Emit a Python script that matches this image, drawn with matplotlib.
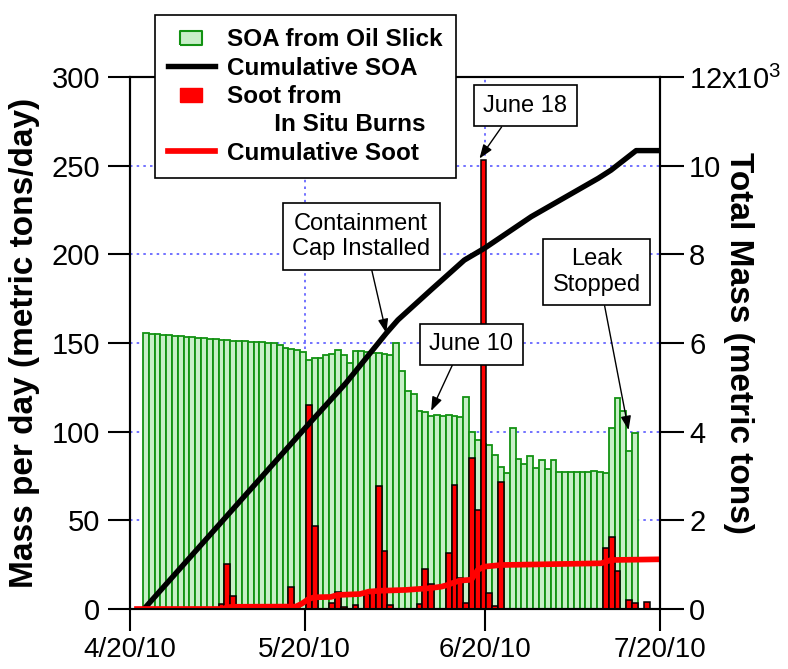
# Daily SOA / soot mass from the oil spill, with cumulative totals
import pandas as pd
import matplotlib
matplotlib.use("Agg")
import matplotlib.pyplot as plt
import matplotlib.dates as mdates
from matplotlib.lines import Line2D
from matplotlib.path import Path

plt.rcParams['font.family'] = ['Liberation Sans', 'DejaVu Sans']
plt.rcParams['mathtext.fontset'] = 'custom'
plt.rcParams['mathtext.rm'] = 'Liberation Sans'

start = pd.Timestamp("2010-04-20")

# SOA from the oil slick, metric tons/day, one value per day starting 4/20/10
soa_daily = [0, 0,
             155.5, 155.2, 155.0, 154.7, 154.4, 154.1, 153.8, 153.6, 153.3, 153.0,
             152.7, 152.5, 152.2, 151.9, 151.6, 151.4, 151.1, 150.9, 150.7, 150.5,
             150.3, 150.1, 149.8, 148.6, 147.2, 146.5, 146.0, 145.0, 140.5, 141.7,
             141.7, 143.2, 144.0, 146.0, 143.0, 139.0, 145.5, 145.5, 145.0, 144.5,
             144.5, 144.0, 143.5, 149.8, 134.4, 123.1, 121.2, 111.8, 111.1, 109.0,
             109.4, 109.0, 109.5, 109.0, 108.5, 119.7, 99.9, 95.2, 93.0, 92.5,
             86.8, 80.3, 76.5, 102.0, 84.4, 81.8, 86.3, 79.3, 84.0, 79.0,
             84.0, 77.5, 77.0, 77.3, 77.2, 77.5, 77.3, 77.6, 77.4, 76.6,
             102.0, 118.8, 111.8, 89.1, 99.1]

# soot from in situ burns, metric tons/day
soot_dates = ["2010-05-05", "2010-05-06", "2010-05-07", "2010-05-17", "2010-05-20",
              "2010-05-21", "2010-05-24", "2010-05-25", "2010-05-26", "2010-05-27",
              "2010-05-28", "2010-05-30", "2010-05-31", "2010-06-01", "2010-06-02",
              "2010-06-03", "2010-06-08", "2010-06-09", "2010-06-10", "2010-06-11",
              "2010-06-12", "2010-06-13", "2010-06-14", "2010-06-15", "2010-06-16",
              "2010-06-17", "2010-06-18", "2010-06-19", "2010-06-20", "2010-06-21",
              "2010-06-22", "2010-07-10", "2010-07-11", "2010-07-12", "2010-07-14",
              "2010-07-15", "2010-07-16", "2010-07-17", "2010-07-18", "2010-07-19"]
soot_daily = [2.8, 25.4, 7.3, 12.2, 115.0,
              46.8, 3.2, 9.4, 1.3, 0,
              2.4, 8.5, 9.8, 69.5, 32.7,
              2.3, 2.6, 22.4, 14.1, 0,
              0, 31.4, 69.9, 17.7, 3.2,
              85.0, 55.8, 253.0, 8.8, 1.7,
              71.4, 34.2, 40.8, 21.6, 5.1,
              3.2, 0, 4.1, 0, 0]

# cumulative totals in metric tons (days after 4/20/10)
cum_soa_days = [2.4, 30.2, 37.1, 44.0, 46.0, 51.7, 57.4, 60.9, 68.9, 80.4, 82.6, 86.9, 91.75]
cum_soa = [0, 4100, 5100, 6220, 6520, 7200, 7870, 8140, 8850, 9715, 9900, 10340, 10340]

cum_soot_days = [1.2, 15.8, 16.8, 17.8, 28.5, 29.5, 30.6, 31.6, 34.5, 35.6, 39.5, 41.0, 43.0,
                 47.3, 49.5, 51.5, 53.5, 54.5, 55.5, 56.6, 58.6, 59.7, 60.8, 63.7, 80.9, 82.6, 91.5]
cum_soot = [0, 0, 40, 50, 55, 120, 220, 264, 272, 316, 338, 392, 412,
            430, 451, 470, 505, 541, 592, 640, 660, 880, 955, 992, 1031, 1105, 1122]

# daily bars are drawn a little after midnight of their date
shift = pd.Timedelta(hours=5)
soa_x = pd.date_range(start, periods=len(soa_daily), freq="D") + shift
soot_x = pd.to_datetime(soot_dates) + shift
cum_soa_x = start + pd.to_timedelta(cum_soa_days, unit="D")
cum_soot_x = start + pd.to_timedelta(cum_soot_days, unit="D")

fig = plt.figure(figsize=(7.88, 6.69), dpi=100)
ax = fig.add_axes([130 / 788, 60 / 669, 530 / 788, 532 / 669])
ax2 = ax.twinx()

ax.bar(soa_x, soa_daily, width=1.0, align="edge", color="#c8efc8",
       edgecolor="#129212", linewidth=1.3, zorder=2)
ax.bar(soot_x, soot_daily, width=1.0, align="edge", color="#ff0000",
       edgecolor="black", linewidth=1.1, zorder=3)

ax2.plot(cum_soa_x, cum_soa, color="black", lw=3.9)
ax2.plot(cum_soot_x, cum_soot, color="#ff0000", lw=4.1)

ax.set_xlim(start, pd.Timestamp("2010-07-20"))
ax.set_ylim(0, 300)
ax2.set_ylim(0, 12000)

xt = pd.to_datetime(["2010-04-20", "2010-05-20", "2010-06-20", "2010-07-20"])
ax.set_xticks(xt)
ax.set_xticklabels(["4/20/10", "5/20/10", "6/20/10", "7/20/10"])
ax.set_yticks(range(0, 301, 50))
ax2.set_yticks(range(0, 12001, 2000))
ax2.set_yticklabels(["0", "2", "4", "6", "8", "10", r"12x10$^{3}$"])

grid_kw = dict(color="#5a5aff", linestyle=(0, (1.5, 2.5)), linewidth=1.2)
ax.grid(True, **grid_kw)
ax.set_axisbelow(True)

for a in (ax, ax2):
    for s in a.spines.values():
        s.set_linewidth(1.5)
ax.tick_params(axis="both", direction="out", length=15.5, width=1.5, labelsize=21)
ax.tick_params(axis="x", pad=5, labelsize=20)
ax.tick_params(axis="y", pad=6)
ax2.tick_params(axis="y", direction="out", length=17, width=1.5, labelsize=21, pad=4)

ax.set_ylabel("Mass per day (metric tons/day)", fontsize=24, fontweight="bold")
ax.yaxis.set_label_coords(-0.17, 0.5)
ax2.set_ylabel("Total Mass (metric tons)", fontsize=24, fontweight="bold", rotation=270, va="bottom")
ax2.yaxis.set_label_coords(1.118, 0.5)

# annotation boxes with arrows
box = dict(boxstyle="square,pad=0.4", fc="white", ec="black", lw=1.2)


def day_num(d):
    return mdates.date2num(start + pd.Timedelta(days=d))


def note(text, xy_day, xy_val, txt_day, txt_val, rel):
    ax2.annotate(text,
                 xy=(day_num(xy_day), xy_val),
                 xytext=(day_num(txt_day), txt_val),
                 xycoords=ax.transData, textcoords=ax.transData,
                 ha="center", va="center", fontsize=17, bbox=box, zorder=10,
                 arrowprops=dict(arrowstyle="-|>,head_length=0.6,head_width=0.22",
                                 color="black", lw=1.0, shrinkA=0, shrinkB=0,
                                 mutation_scale=14, relpos=rel))


note("June 18", 60.0, 254, 67.9, 283.7, (0.3, 0.0))
note("Containment\nCap Installed", 44.0, 155.6, 39.7, 210.0, (0.56, 0.0))
note("June 10", 51.7, 111.7, 58.6, 149.4, (0.33, 0.0))
note("Leak\nStopped", 85.6, 100.9, 80.1, 190.0, (0.57, 0.0))

# legend with small rectangles for the bar series
rect = Path([(-1, -0.6), (1, -0.6), (1, 0.6), (-1, 0.6), (-1, -0.6)])
handles = [
    Line2D([], [], linestyle="none", marker=rect, markersize=16.5,
           markerfacecolor="#c8efc8", markeredgecolor="#129212", markeredgewidth=1.5),
    Line2D([], [], color="black", lw=3.9),
    Line2D([], [], linestyle="none", marker=rect, markersize=16.5,
           markerfacecolor="#ff0000", markeredgecolor="#ff0000"),
    Line2D([], [], linestyle="none"),
    Line2D([], [], color="#ff0000", lw=4.1),
]
labels = ["SOA from Oil Slick", "Cumulative SOA", "Soot from",
          "       In Situ Burns", "Cumulative Soot"]
leg = fig.legend(handles, labels, loc="upper left",
                 bbox_to_anchor=(155 / 788, 1 - 15 / 669), borderaxespad=0,
                 prop=dict(size=17.5, weight="bold"), handlelength=1.9,
                 handletextpad=0.5, borderpad=0.55, labelspacing=0.22,
                 fancybox=False, framealpha=1, edgecolor="black")
leg.get_frame().set_linewidth(1.2)

plt.savefig("out.png", dpi=100)
